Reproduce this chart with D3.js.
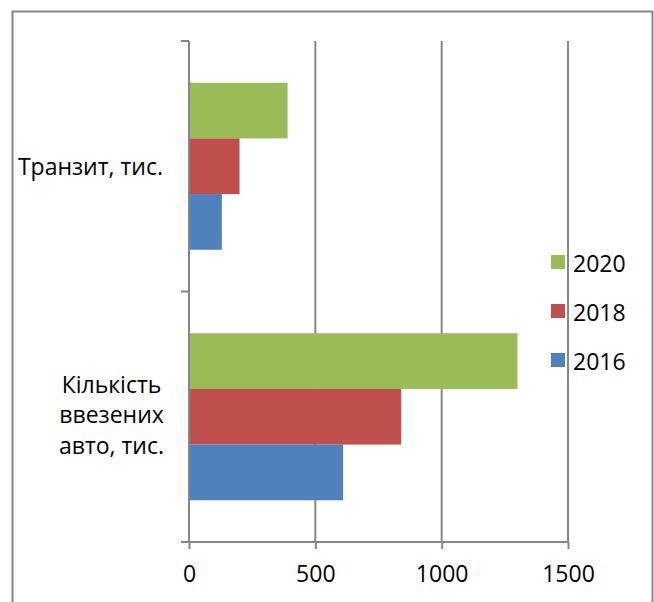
<!DOCTYPE html>
<html>
<head>
<meta charset="utf-8" />
<title>Транзит та ввезені авто</title>
<script src="https://d3js.org/d3.v7.min.js"></script>
<style>
  body { margin: 0; background: #fff; }
  .lbl { font-family: "Open Sans", "Liberation Sans", sans-serif; font-size: 23px; fill: #000; }
</style>
</head>
<body>
<div id="chart"></div>
<script>
// categories, from top to bottom as drawn
var categories = ["Транзит, тис.", "Кількість ввезених авто, тис."];
var categoryLines = [["Транзит, тис."], ["Кількість", "ввезених", "авто, тис."]];
var years = ["2020", "2018", "2016"];
var values2020 = [390, 1300];
var values2018 = [200, 840];
var values2016 = [130, 610];
var xTicks = [0, 500, 1000, 1500];

var colors = { "2020": "#9BBB59", "2018": "#C0504D", "2016": "#4F81BD" };
var series = { "2020": values2020, "2018": values2018, "2016": values2016 };

var W = 654, H = 602;
var margin = { top: 41, left: 189 };
var plotW = 379, plotH = 501;

var svg = d3.select("#chart").append("svg")
  .attr("width", W)
  .attr("height", H);

// outer frame (bottom edge is outside the picture)
svg.append("rect")
  .attr("x", 12.5).attr("y", 11.5)
  .attr("width", 640).attr("height", 620)
  .attr("fill", "none")
  .attr("stroke", "#868686")
  .attr("stroke-width", 2);

var g = svg.append("g")
  .attr("transform", "translate(" + margin.left + "," + margin.top + ")");

var x = d3.scaleLinear().domain([0, 1500]).range([0, plotW]);
var y = d3.scaleBand().domain(categories).range([0, plotH]);
var inner = d3.scaleBand().domain(years).range([0, y.bandwidth()])
  .paddingInner(0).paddingOuter(0.75);

// vertical gridlines
g.selectAll(".grid")
  .data(xTicks.slice(1))
  .enter().append("line")
  .attr("x1", function (d) { return x(d); })
  .attr("x2", function (d) { return x(d); })
  .attr("y1", 0).attr("y2", plotH)
  .attr("stroke", "#868686")
  .attr("stroke-width", 2);

// bars
years.forEach(function (yr) {
  g.selectAll(".bar-" + yr)
    .data(categories)
    .enter().append("rect")
    .attr("x", 0)
    .attr("y", function (d) { return y(d) + inner(yr); })
    .attr("width", function (d, i) { return x(series[yr][i]); })
    .attr("height", inner.bandwidth())
    .attr("fill", colors[yr]);
});

// x axis
var xAxis = g.append("g")
  .attr("transform", "translate(0," + plotH + ")")
  .call(d3.axisBottom(x).tickValues(xTicks).tickSize(7).tickPadding(17).tickFormat(d3.format("d")));
xAxis.select(".domain").attr("stroke", "#868686").attr("stroke-width", 2).attr("d", "M0,0H" + plotW);
xAxis.selectAll(".tick line").attr("stroke", "#868686").attr("stroke-width", 2);
xAxis.selectAll("text").attr("class", "lbl").attr("fill", "#000").style("font-size", "23px");

// y axis with boundary ticks
var yAxis = g.append("g");
yAxis.append("line")
  .attr("x1", 0).attr("x2", 0).attr("y1", 0).attr("y2", plotH)
  .attr("stroke", "#868686").attr("stroke-width", 2);
var bounds = [0].concat(categories.map(function (c) { return y(c) + y.bandwidth(); }));
yAxis.selectAll(".ytick")
  .data(bounds)
  .enter().append("line")
  .attr("x1", -8).attr("x2", 0)
  .attr("y1", function (d) { return d; })
  .attr("y2", function (d) { return d; })
  .attr("stroke", "#868686").attr("stroke-width", 2);

// category labels
categories.forEach(function (c, i) {
  var lines = categoryLines[i];
  var lh = 30.5;
  var multi = lines.length > 1;
  var cy = y(c) + y.bandwidth() / 2;
  var tx = multi ? -77.5 : -26;
  var t = g.append("text")
    .attr("class", "lbl")
    .attr("text-anchor", multi ? "middle" : "end")
    .attr("x", tx);
  lines.forEach(function (ln, j) {
    t.append("tspan")
      .attr("x", tx)
      .attr("y", cy + (j - (lines.length - 1) / 2) * lh + (multi ? 6.5 : 9))
      .text(ln);
  });
});

// legend
var legend = svg.append("g").attr("transform", "translate(551,255)");
var items = legend.selectAll(".leg")
  .data(years)
  .enter().append("g")
  .attr("transform", function (d, i) { return "translate(0," + (i * 49) + ")"; });
items.append("rect")
  .attr("width", 14).attr("height", 14)
  .attr("fill", function (d) { return colors[d]; });
items.append("text")
  .attr("class", "lbl")
  .attr("x", 22).attr("y", 16.5)
  .text(function (d) { return d; });
</script>
</body>
</html>
